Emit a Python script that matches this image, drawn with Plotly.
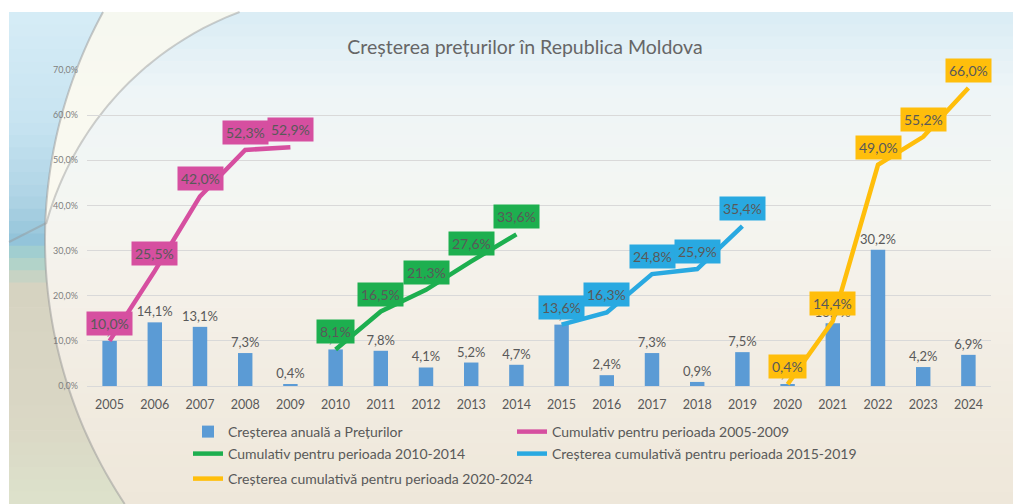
import plotly.graph_objects as go
import numpy as np

# ---------------- data ----------------
years = list(range(2005, 2025))
annual = [10.0, 14.1, 13.1, 7.3, 0.4, 8.1, 7.8, 4.1, 5.2, 4.7,
          13.6, 2.4, 7.3, 0.9, 7.5, 0.4, 13.9, 30.2, 4.2, 6.9]
years_2005_2009 = [2005, 2006, 2007, 2008, 2009]
cum_2005_2009 = [10.0, 25.5, 42.0, 52.3, 52.9]
years_2010_2014 = [2010, 2011, 2012, 2013, 2014]
cum_2010_2014 = [8.1, 16.5, 21.3, 27.6, 33.6]
years_2015_2019 = [2015, 2016, 2017, 2018, 2019]
cum_2015_2019 = [13.6, 16.3, 24.8, 25.9, 35.4]
years_2020_2024 = [2020, 2021, 2022, 2023, 2024]
cum_2020_2024 = [0.4, 14.4, 49.0, 55.2, 66.0]
y_ticks = [0, 10, 20, 30, 40, 50, 60, 70]

title = "Creșterea prețurilor în Republica Moldova"
bar_name = "Creșterea anuală a Prețurilor"
lines = [
    ("Cumulativ pentru perioada 2005-2009", years_2005_2009, cum_2005_2009, "#D64FA0", "legend2"),
    ("Cumulativ pentru perioada 2010-2014", years_2010_2014, cum_2010_2014, "#1DAF4F", "legend3"),
    ("Creșterea cumulativă pentru perioada 2015-2019", years_2015_2019, cum_2015_2019, "#29A9E1", "legend4"),
    ("Creșterea cumulativă pentru perioada 2020-2024", years_2020_2024, cum_2020_2024, "#FFBE0B", "legend5"),
]

FONT = "Lato"
TXT = "#595959"

# ---------------- geometry (decoration only) ----------------
# the html body adds an 8px offset; measurements below are in screen pixels
OFF = 8
SW, SH = 1021, 504
FW, FH = SW - OFF, SH - OFF
PX0, PX1, PY0, PY1 = 87, 991, 70, 386   # plot area in screen px
L, R, T, B = PX0 - OFF, SW - PX1, PY0 - OFF, SH - PY1
PW, PH = PX1 - PX0, PY1 - PY0


def px(X):
    return (X - PX0) / PW


def py(Y):
    return (PY1 - Y) / PH


def hexrgb(h):
    h = h.lstrip("#")
    return tuple(int(h[i:i + 2], 16) for i in (0, 2, 4))


def interp(stops, Y):
    for (y0, c0), (y1, c1) in zip(stops[:-1], stops[1:]):
        if y0 <= Y <= y1:
            t = (Y - y0) / (y1 - y0) if y1 > y0 else 0
            a, b = hexrgb(c0), hexrgb(c1)
            return "rgb(%d,%d,%d)" % tuple(round(a[i] + (b[i] - a[i]) * t) for i in range(3))
    return stops[-1][1]


shapes = []
FX0, FY0 = 9, 12

main_stops = [(12, "#D9ECF5"), (90, "#EEF5F7"), (200, "#F4F6F2"),
              (300, "#F4F0E8"), (400, "#F1EBE0"), (504, "#EEE7DA")]
N = 40
edges = np.linspace(FY0, SH, N + 1)
for a, b in zip(edges[:-1], edges[1:]):
    shapes.append(dict(type="rect", xref="paper", yref="paper", layer="below",
                       x0=px(FX0), x1=px(SW), y0=py(a), y1=py(b + 0.6),
                       fillcolor=interp(main_stops, (a + b) / 2), line_width=0))


def outer_x(Y):
    return 522 - np.sqrt(477 ** 2 - (Y - 240) ** 2)


def inner_x(Y):
    return 350 - np.sqrt(315 ** 2 - (Y - 307) ** 2)


left_stops = [(12, "#D6ECF6"), (120, "#C8E4F1"), (200, "#AED3E4"), (240, "#93C4DA"),
              (258, "#A8D3CB"), (285, "#D6D3C1"), (420, "#DAD7C5"), (504, "#DDE2CC")]
N2 = 40
edges = np.linspace(FY0, SH, N2 + 1)
for a, b in zip(edges[:-1], edges[1:]):
    ys = np.linspace(a, b + 0.6, 4)
    pts = [(FX0, a)] + [(outer_x(y), y) for y in ys] + [(FX0, b + 0.6)]
    path = "M " + " L ".join("%.5f,%.5f" % (px(x), py(y)) for x, y in pts) + " Z"
    shapes.append(dict(type="path", xref="paper", yref="paper", layer="below",
                       path=path, fillcolor=interp(left_stops, (a + b) / 2), line_width=0))

ys = np.linspace(FY0, 223, 30)
pts = [(outer_x(y), y) for y in ys] + [(inner_x(y), y) for y in ys[::-1]]
path = "M " + " L ".join("%.5f,%.5f" % (px(x), py(y)) for x, y in pts) + " Z"
shapes.append(dict(type="path", xref="paper", yref="paper", layer="below",
                   path=path, fillcolor="rgba(250,249,238,0.85)", line_width=0))

ys = np.linspace(FY0, SH, 80)
path = "M " + " L ".join("%.5f,%.5f" % (px(outer_x(y)), py(y)) for y in ys)
shapes.append(dict(type="path", xref="paper", yref="paper", layer="below",
                   path=path, line=dict(color="rgba(150,150,150,0.5)", width=2)))
ys = np.linspace(FY0, 223, 40)
pts = [(inner_x(y), y) for y in ys] + [(FX0, 242)]
path = "M " + " L ".join("%.5f,%.5f" % (px(x), py(y)) for x, y in pts)
shapes.append(dict(type="path", xref="paper", yref="paper", layer="below",
                   path=path, line=dict(color="rgba(150,150,150,0.45)", width=2)))

# ---------------- figure ----------------
fig = go.Figure()
fig.add_trace(go.Bar(
    x=years, y=annual, name=bar_name, width=0.32, legend="legend",
    marker=dict(color="#5B9BD5", line_width=0),
    texttemplate="%{y:.1f}%", textposition="outside", constraintext="none",
    textfont=dict(family=FONT, size=13, color=TXT), cliponaxis=False,
))

annotations = []
for name, xs, vals, color, leg in lines:
    fig.add_trace(go.Scatter(
        x=xs, y=vals, name=name, mode="lines", legend=leg,
        line=dict(color=color, width=4.5), cliponaxis=False,
    ))
    for xv, v in zip(xs, vals):
        annotations.append(dict(
            x=xv, y=v, xref="x", yref="y", showarrow=False,
            text=("%.1f%%" % v).replace(".", ","),
            font=dict(family=FONT, size=14, color=TXT),
            bgcolor=color, borderpad=3, yanchor="bottom", yshift=5,
        ))


def legend_at(Xtext, Yc):
    return dict(orientation="h", x=px(Xtext - 40), y=py(Yc), xanchor="left", yanchor="middle",
                font=dict(family=FONT, size=14, color=TXT),
                bgcolor="rgba(0,0,0,0)", itemwidth=30)


fig.update_layout(
    width=FW, height=FH,
    margin=dict(l=L, r=R, t=T, b=B, autoexpand=False),
    paper_bgcolor="white", plot_bgcolor="rgba(0,0,0,0)",
    separators=",.",
    font=dict(family=FONT, color=TXT),
    title=dict(text=title, xref="container", yref="container",
               x=(525 - OFF) / FW, y=1 - (47.5 - OFF) / FH,
               xanchor="center", yanchor="middle",
               font=dict(family=FONT, size=19.5, color="#666666")),
    xaxis=dict(range=[2004.5, 2024.5], tickmode="array", tickvals=years,
               ticktext=[str(y) for y in years], showgrid=False,
               showline=True, linecolor="#D9D9D9", linewidth=1, ticks="",
               tickfont=dict(family=FONT, size=12.5, color=TXT),
               ticklabelstandoff=7, zeroline=False, fixedrange=True),
    yaxis=dict(range=[0, 70], tickmode="array", tickvals=y_ticks,
               ticktext=[("%.1f%%" % v).replace(".", ",") for v in y_ticks],
               gridcolor="#D9D9D9", gridwidth=1, zeroline=False, ticks="",
               tickfont=dict(family=FONT, size=9, color="#7F7F7F"),
               ticklabelstandoff=8, fixedrange=True),
    legend=legend_at(228, 432),
    legend2=legend_at(552, 432),
    legend3=legend_at(228, 454),
    legend4=legend_at(552, 454),
    legend5=legend_at(228, 479),
    showlegend=True,
    shapes=shapes,
    annotations=annotations,
    bargap=0.6,
)

fig.write_html("out.html")
